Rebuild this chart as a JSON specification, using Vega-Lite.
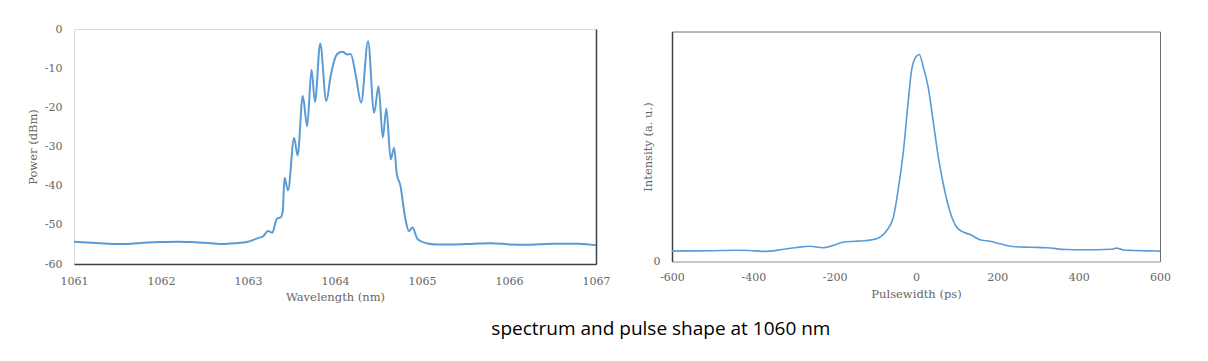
{
  "$schema": "https://vega.github.io/schema/vega-lite/v6.json",
  "background": "white",
  "padding": {"left": 26, "top": 22, "right": 10, "bottom": 10},
  "datasets": {
    "spectrum": [
      {"wavelength": 1061.00, "power": -54.3},
      {"wavelength": 1061.15, "power": -54.5},
      {"wavelength": 1061.30, "power": -54.7},
      {"wavelength": 1061.50, "power": -54.9},
      {"wavelength": 1061.65, "power": -54.8},
      {"wavelength": 1061.80, "power": -54.6},
      {"wavelength": 1062.00, "power": -54.4},
      {"wavelength": 1062.20, "power": -54.3},
      {"wavelength": 1062.35, "power": -54.4},
      {"wavelength": 1062.50, "power": -54.6},
      {"wavelength": 1062.70, "power": -54.9},
      {"wavelength": 1062.85, "power": -54.7},
      {"wavelength": 1063.00, "power": -54.3},
      {"wavelength": 1063.09, "power": -53.6},
      {"wavelength": 1063.14, "power": -53.2},
      {"wavelength": 1063.17, "power": -53.0},
      {"wavelength": 1063.23, "power": -51.6},
      {"wavelength": 1063.28, "power": -52.0},
      {"wavelength": 1063.33, "power": -48.5},
      {"wavelength": 1063.38, "power": -48.0},
      {"wavelength": 1063.40, "power": -46.4},
      {"wavelength": 1063.42, "power": -38.0},
      {"wavelength": 1063.46, "power": -41.2},
      {"wavelength": 1063.53, "power": -27.8},
      {"wavelength": 1063.57, "power": -32.3},
      {"wavelength": 1063.63, "power": -17.1},
      {"wavelength": 1063.68, "power": -24.8},
      {"wavelength": 1063.73, "power": -10.4},
      {"wavelength": 1063.77, "power": -18.6},
      {"wavelength": 1063.83, "power": -3.7},
      {"wavelength": 1063.90, "power": -18.4},
      {"wavelength": 1063.95, "power": -12.0},
      {"wavelength": 1064.01, "power": -6.9},
      {"wavelength": 1064.05, "power": -6.0},
      {"wavelength": 1064.09, "power": -5.8},
      {"wavelength": 1064.12, "power": -6.3},
      {"wavelength": 1064.14, "power": -6.5},
      {"wavelength": 1064.18, "power": -6.4},
      {"wavelength": 1064.24, "power": -12.0},
      {"wavelength": 1064.30, "power": -18.8},
      {"wavelength": 1064.38, "power": -3.1},
      {"wavelength": 1064.45, "power": -21.4},
      {"wavelength": 1064.50, "power": -14.6},
      {"wavelength": 1064.55, "power": -27.7},
      {"wavelength": 1064.59, "power": -20.3},
      {"wavelength": 1064.64, "power": -33.3},
      {"wavelength": 1064.68, "power": -30.3},
      {"wavelength": 1064.71, "power": -37.0},
      {"wavelength": 1064.75, "power": -39.8},
      {"wavelength": 1064.81, "power": -48.6},
      {"wavelength": 1064.85, "power": -51.6},
      {"wavelength": 1064.89, "power": -50.7},
      {"wavelength": 1064.95, "power": -53.7},
      {"wavelength": 1065.05, "power": -54.7},
      {"wavelength": 1065.16, "power": -55.0},
      {"wavelength": 1065.35, "power": -55.0},
      {"wavelength": 1065.60, "power": -54.8},
      {"wavelength": 1065.80, "power": -54.7},
      {"wavelength": 1066.00, "power": -55.0},
      {"wavelength": 1066.20, "power": -55.1},
      {"wavelength": 1066.50, "power": -54.8},
      {"wavelength": 1066.80, "power": -54.8},
      {"wavelength": 1067.00, "power": -55.2}
    ],
    "pulse": [
      {"time": -600, "intensity": 0.045},
      {"time": -560, "intensity": 0.046},
      {"time": -500, "intensity": 0.047},
      {"time": -450, "intensity": 0.049},
      {"time": -408, "intensity": 0.048},
      {"time": -380, "intensity": 0.044},
      {"time": -359, "intensity": 0.045},
      {"time": -330, "intensity": 0.052},
      {"time": -293, "intensity": 0.061},
      {"time": -261, "intensity": 0.066},
      {"time": -229, "intensity": 0.060},
      {"time": -200, "intensity": 0.072},
      {"time": -180, "intensity": 0.084},
      {"time": -150, "intensity": 0.088},
      {"time": -130, "intensity": 0.090},
      {"time": -110, "intensity": 0.094},
      {"time": -96, "intensity": 0.100},
      {"time": -85, "intensity": 0.110},
      {"time": -72, "intensity": 0.135},
      {"time": -56, "intensity": 0.190},
      {"time": -44, "intensity": 0.310},
      {"time": -31, "intensity": 0.480},
      {"time": -19, "intensity": 0.700},
      {"time": -11, "intensity": 0.830},
      {"time": 0, "intensity": 0.890},
      {"time": 8, "intensity": 0.900},
      {"time": 18, "intensity": 0.845},
      {"time": 30, "intensity": 0.758},
      {"time": 43, "intensity": 0.600},
      {"time": 55, "intensity": 0.453},
      {"time": 67, "intensity": 0.338},
      {"time": 84, "intensity": 0.214},
      {"time": 100, "intensity": 0.149},
      {"time": 112, "intensity": 0.132},
      {"time": 133, "intensity": 0.117},
      {"time": 157, "intensity": 0.095},
      {"time": 182, "intensity": 0.088},
      {"time": 207, "intensity": 0.077},
      {"time": 239, "intensity": 0.065},
      {"time": 280, "intensity": 0.062},
      {"time": 321, "intensity": 0.060},
      {"time": 371, "intensity": 0.052},
      {"time": 410, "intensity": 0.051},
      {"time": 444, "intensity": 0.051},
      {"time": 480, "intensity": 0.053},
      {"time": 493, "intensity": 0.058},
      {"time": 510, "intensity": 0.050},
      {"time": 534, "intensity": 0.048},
      {"time": 570, "intensity": 0.046},
      {"time": 600, "intensity": 0.045}
    ]
  },
  "title": {
    "text": "spectrum and pulse shape at 1060 nm",
    "orient": "bottom",
    "anchor": "middle",
    "font": "Open Sans",
    "fontSize": 19,
    "fontWeight": "normal",
    "color": "#000000",
    "offset": 17,
    "dx": 62
  },
  "spacing": 30,
  "center": true,
  "hconcat": [
    {
      "width": 522,
      "height": 235,
      "view": {"stroke": "#d9d9d9"},
      "data": {"name": "spectrum"},
      "resolve": {"axis": {"y": "independent"}},
      "layer": [
        {
          "mark": {"type": "line", "color": "#5b9bd5", "strokeWidth": 2, "interpolate": "monotone"},
          "encoding": {
            "x": {
              "field": "wavelength", "type": "quantitative",
              "scale": {"domain": [1061, 1067], "nice": false, "zero": false},
              "axis": {
                "title": "Wavelength (nm)", "values": [1061, 1062, 1063, 1064, 1065, 1066, 1067],
                "format": "d", "ticks": false, "grid": false, "domainColor": "#404040", "domainWidth": 1.5,
                "labelPadding": 11, "titlePadding": 5, "labelFlush": false
              }
            },
            "y": {
              "field": "power", "type": "quantitative",
              "scale": {"domain": [-60, 0], "nice": false, "zero": false},
              "axis": {
                "title": "Power (dBm)", "values": [-60, -50, -40, -30, -20, -10, 0],
                "labelExpr": "(datum.value < 0 ? '-' : '') + abs(datum.value)",
                "ticks": false, "grid": false, "domain": false, "labelPadding": 12, "titlePadding": 6,
                "labelFlush": false
              }
            }
          }
        },
        {
          "mark": {"type": "line", "opacity": 0},
          "encoding": {
            "x": {"field": "wavelength", "type": "quantitative"},
            "y": {
              "field": "power", "type": "quantitative",
              "axis": {"orient": "right", "title": null, "labels": false, "ticks": false, "grid": false, "domainColor": "#404040", "domainWidth": 1.5}
            }
          }
        }
      ]
    },
    {
      "width": 488,
      "height": 230,
      "view": {"stroke": "#6e6e6e"},
      "data": {"name": "pulse"},
      "mark": {"type": "line", "color": "#5b9bd5", "strokeWidth": 1.6, "interpolate": "monotone"},
      "encoding": {
        "x": {
          "field": "time", "type": "quantitative",
          "scale": {"domain": [-600, 600], "nice": false},
          "axis": {
            "title": "Pulsewidth (ps)", "values": [-600, -400, -200, 0, 200, 400, 600],
            "labelExpr": "(datum.value < 0 ? '-' : '') + abs(datum.value)",
            "ticks": false, "grid": false, "domainColor": "#d9d9d9", "labelPadding": 10, "titlePadding": 6,
            "labelFlush": false
          }
        },
        "y": {
          "field": "intensity", "type": "quantitative",
          "scale": {"domain": [0, 1], "nice": false},
          "axis": {
            "title": "Intensity (a. u.)", "values": [0],
            "ticks": false, "grid": false, "domainColor": "#404040", "domainWidth": 1.5,
            "labelPadding": 12, "titlePadding": 0, "labelFlush": false
          }
        }
      }
    }
  ],
  "config": {
    "axis": {
      "labelFont": "DejaVu Serif",
      "labelFontSize": 11,
      "labelColor": "#666666",
      "titleFont": "DejaVu Serif",
      "titleFontSize": 11.5,
      "titleFontWeight": "normal",
      "titleColor": "#666666"
    }
  }
}
